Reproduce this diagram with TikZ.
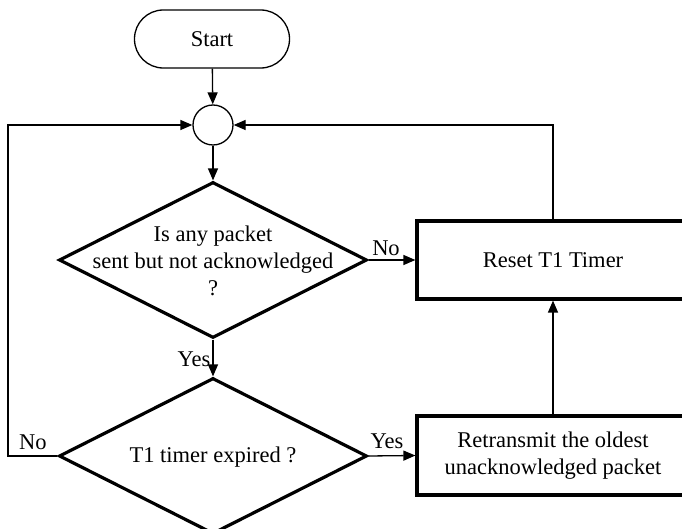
\documentclass[tikz,border=0pt]{standalone}
\usepackage{fontspec}
\setmainfont{Liberation Serif}
\usetikzlibrary{shapes.geometric,arrows.meta}
\begin{document}
\begin{tikzpicture}[x=0.5pt,y=-0.5pt,
  font=\fontsize{11.25}{13.5}\selectfont,
  flow/.style={line width=0.65pt,-{Triangle[length=6pt,width=5pt]}},
  terminal/.style={draw,line width=0.65pt,rectangle,rounded corners=14.4pt,
    minimum width=77.5pt,minimum height=29pt,inner sep=0pt},
  junction/.style={draw,line width=0.65pt,circle,minimum size=20pt,inner sep=0pt},
  decision/.style={draw,line width=1.6pt,diamond,minimum width=154pt,
    minimum height=78pt,inner sep=0pt},
  process/.style={draw,line width=1.6pt,rectangle,minimum width=136pt,
    inner sep=0pt,align=center},
  tag/.style={inner sep=0pt}]
  \useasboundingbox (0,0) rectangle (682,529);
  \clip (0,0) rectangle (682,529);

  % shapes
  \node[terminal] (start) at (212,39) {Start};
  \node[junction] (join) at (213,125) {};
  \node[decision] (pending) at (213,260) {};
  \node[align=center,inner sep=0pt] (pendingtext) at (213,261)
    {Is any packet\\sent but not acknowledged\\?};
  \node[decision] (expired) at (213,456) {};
  \node[inner sep=0pt] (expiredtext) at (213,457) {T1 timer expired ?};
  \node[process,minimum height=39pt] (reset) at (553,260) {Reset T1 Timer};
  \node[process,minimum height=39.5pt] (retx) at (553,455.5)
    {Retransmit the oldest\\unacknowledged packet};

  % connectors
  \coordinate (leftturn) at (8,125);
  \draw[flow] (start) -- (join);
  \draw[flow] (join) -- (pending);
  \draw[flow] (pending.south) -- (expired.north);
  \draw[flow] (pending.east) -- (reset.west);
  \draw[flow] (expired.east) -- (retx.west);
  \draw[flow] (retx.north) -- (reset.south);
  \draw[flow] (reset.north) |- (join.east);
  \draw[flow] (expired.west) -| (leftturn) -- (join.west);

  % branch labels
  \node[tag] (lblno1) at (386,248) {No};
  \node[tag] (lblyes1) at (194,359) {Yes};
  \node[tag] (lblyes2) at (387,441) {Yes};
  \node[tag] (lblno2) at (33,442) {No};
\end{tikzpicture}
\end{document}
